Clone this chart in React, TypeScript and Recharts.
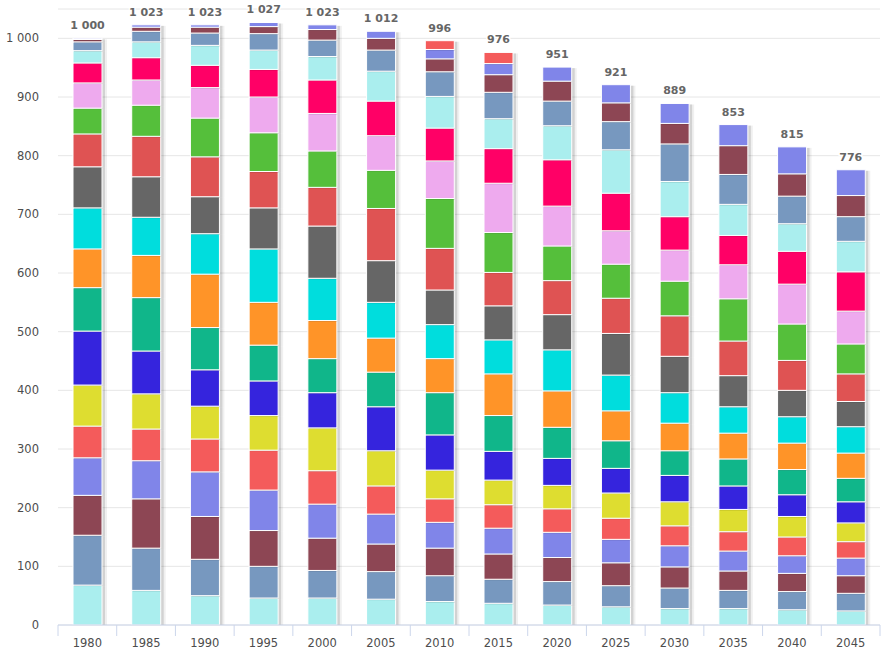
import React from 'react';
import { BarChart, Bar, XAxis, YAxis, CartesianGrid, LabelList } from 'recharts';

// categories
const years = ['1980', '1985', '1990', '1995', '2000', '2005', '2010', '2015', '2020', '2025', '2030', '2035', '2040', '2045'];

// stacked bands, bottom to top (values in thousands)
const band01 = [68, 59, 50, 46, 46, 44, 40, 37, 34, 31, 28, 28, 26, 24];
const band02 = [85, 72, 62, 54, 47, 47, 44, 41, 40, 36, 35, 31, 31, 30];
const band03 = [68, 84, 73, 61, 55, 47, 47, 43, 41, 39, 36, 33, 31, 30];
const band04 = [64, 65, 76, 69, 58, 51, 44, 44, 43, 40, 36, 34, 30, 30];
const band05 = [54, 54, 56, 68, 57, 48, 40, 40, 40, 36, 34, 33, 32, 28];
const band06 = [70, 60, 56, 59, 73, 60, 49, 42, 40, 43, 41, 38, 35, 32];
const band07 = [92, 73, 62, 59, 60, 75, 60, 49, 46, 42, 45, 40, 37, 36];
const band08 = [74, 91, 72, 61, 58, 59, 72, 61, 53, 47, 42, 46, 43, 40];
const band09 = [66, 72, 91, 73, 65, 58, 58, 71, 62, 51, 47, 44, 45, 43];
const band10 = [70, 65, 69, 91, 72, 61, 58, 58, 70, 61, 52, 45, 45, 45];
const band11 = [70, 69, 63, 70, 89, 71, 59, 58, 60, 71, 62, 53, 45, 43];
const band12 = [56, 69, 68, 62, 66, 89, 71, 57, 58, 60, 69, 59, 51, 47];
const band13 = [44, 53, 66, 66, 62, 65, 85, 68, 59, 58, 59, 72, 62, 51];
const band14 = [43, 43, 52, 61, 64, 59, 64, 84, 68, 57, 53, 58, 68, 56];
const band15 = [34, 38, 38, 47, 57, 59, 56, 59, 79, 64, 57, 50, 56, 67];
const band16 = [21, 27, 34, 33, 40, 51, 54, 51, 58, 74, 60, 53, 47, 52];
const band17 = [15, 18, 21, 28, 28, 36, 42, 45, 42, 48, 64, 51, 47, 42];
const band18 = [4, 7, 10, 12, 18, 20, 22, 30, 34, 32, 35, 49, 38, 36];
const band19 = [2, 4, 4, 7, 8, 12, 16, 19, 24, 31, 34, 36, 46, 44];
const band20 = [0, 0, 0, 0, 0, 0, 15, 19, 0, 0, 0, 0, 0, 0];

const bands = [band01, band02, band03, band04, band05, band06, band07, band08, band09, band10,
  band11, band12, band13, band14, band15, band16, band17, band18, band19, band20];

const bandColors = [
  '#aaeeee', '#7798bf', '#8d4654', '#8085e9', '#f45b5b',
  '#dedd30', '#3524dd', '#10b68a', '#ff9428', '#00dddd',
  '#666666', '#df5353', '#55bf3b', '#eeaaee', '#ff0066',
  '#aaeeee', '#7798bf', '#8d4654', '#8085e9', '#f45b5b',
];

const yTicks = [0, 100, 200, 300, 400, 500, 600, 700, 800, 900, 1000];

const fmt = (n: number) =>
  n >= 1000 ? `${Math.floor(n / 1000)} ${String(n % 1000).padStart(3, '0')}` : String(n);

const data = years.map((year, i) => {
  const row: Record<string, number | string> = { year };
  bands.forEach((b, k) => {
    row[`b${k + 1}`] = b[i];
  });
  row.total = bands.reduce((s, b) => s + b[i], 0);
  return row;
});

const AXIS_FONT = '"DejaVu Sans", Verdana, sans-serif';

const ShadowBar = (props: any) => {
  const { x, y, width, height, fill } = props;
  if (!height || height <= 0) return null;
  return (
    <g>
      <rect x={x + 1} y={y + 1} width={width + 4} height={height} fill="rgba(0,0,0,0.06)" />
      <rect x={x + 1} y={y + 1} width={width + 2} height={height} fill="rgba(0,0,0,0.12)" />
      <rect x={x} y={y} width={width} height={height} fill={fill} stroke="#ffffff" strokeWidth={1} />
    </g>
  );
};

const XTick = (props: any) => {
  const { x, y, payload, index } = props;
  const half = payload.offset ?? 0;
  return (
    <g>
      <line x1={x - half} x2={x - half} y1={y} y2={y + 11} stroke="#ccd6eb" strokeWidth={1} />
      {index === years.length - 1 && (
        <line x1={x + half} x2={x + half} y1={y} y2={y + 11} stroke="#ccd6eb" strokeWidth={1} />
      )}
      <text x={x} y={y + 18} textAnchor="middle" dominantBaseline="central" fontSize={11.5} fill="#4d4d4d" fontFamily={AXIS_FONT}>
        {payload.value}
      </text>
    </g>
  );
};

const TotalLabel = (props: any) => {
  const { x, y, width, index } = props;
  const total = data[index]?.total as number;
  return (
    <text
      x={x + width / 2}
      y={y - 9}
      textAnchor="middle"
      fontSize={11}
      fontWeight="bold"
      fill="#666666"
      stroke="#ffffff"
      strokeWidth={3}
      paintOrder="stroke"
      fontFamily={AXIS_FONT}
    >
      {fmt(total)}
    </text>
  );
};

export default function App() {
  return (
    <div style={{ width: 892, height: 661, background: '#ffffff' }}>
      <style>{'body{margin:0}'}</style>
      <BarChart width={892} height={661} data={data} margin={{ top: 9, right: 12, bottom: 6, left: 0 }} barSize={29}>
        <CartesianGrid vertical={false} stroke="#e6e6e6" />
        <XAxis
          dataKey="year"
          height={30}
          tickSize={0}
          tickMargin={0}
          tickLine={false}
          axisLine={{ stroke: '#ccd6eb' }}
          tick={<XTick />}
          interval={0}
        />
        <YAxis
          width={58}
          domain={[0, 1050]}
          ticks={yTicks}
          allowDataOverflow
          axisLine={false}
          tickLine={false}
          tickSize={0}
          tickMargin={19}
          tickFormatter={fmt}
          tick={{ fontSize: 11.5, fill: '#4d4d4d', fontFamily: AXIS_FONT }}
        />
        {bands.map((_, k) => (
          <Bar
            key={k}
            dataKey={`b${k + 1}`}
            stackId="pop"
            fill={bandColors[k]}
            shape={<ShadowBar />}
            isAnimationActive={false}
          >
            {k === bands.length - 1 && <LabelList dataKey="total" content={<TotalLabel />} />}
          </Bar>
        ))}
      </BarChart>
    </div>
  );
}
